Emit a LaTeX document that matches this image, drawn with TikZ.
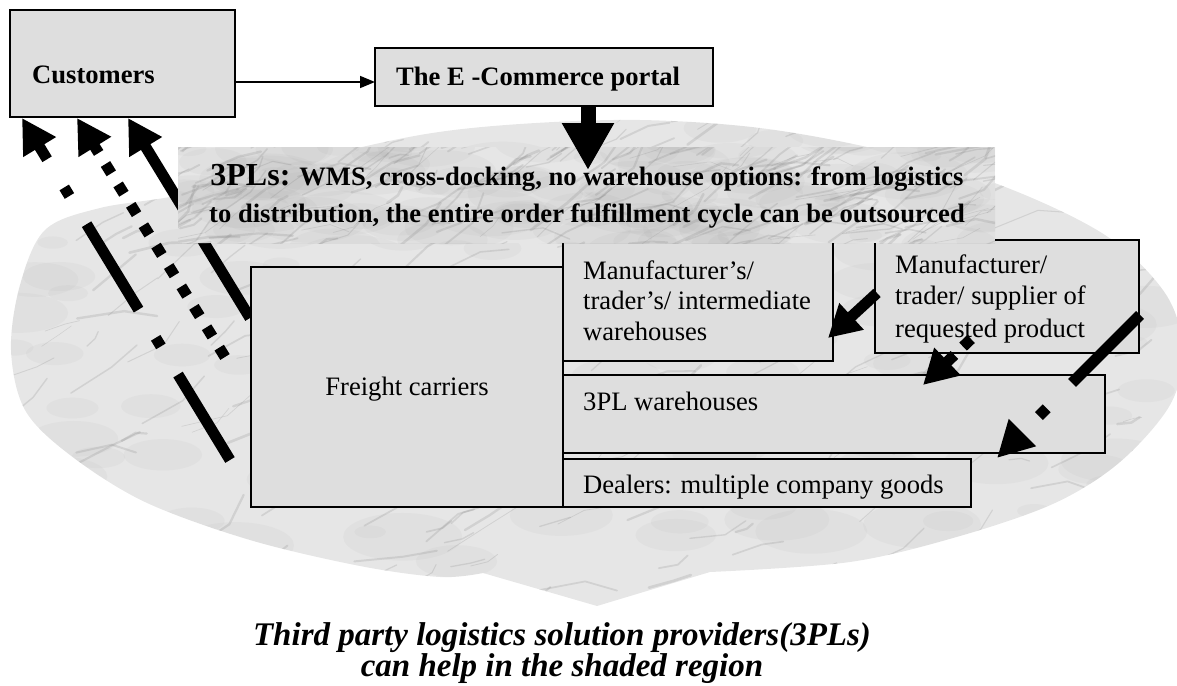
\documentclass[tikz,border=0pt]{standalone}
\usepackage{fontspec}
\setmainfont{Liberation Serif}
\usetikzlibrary{arrows.meta,calc}
\definecolor{boxgray}{HTML}{DEDEDE}
\definecolor{marble}{HTML}{E6E6E6}
\definecolor{vein}{HTML}{7E7E7E}
\newcommand\blobpath{(597,606) -- plot[smooth,tension=0.55] coordinates {(710,572) (850,562) (960,536) (1055,503) (1120,462) (1170,405) (1183,350) (1165,293) (1105,235) (1000,185) (880,150) (760,128) (640,120) (520,124) (420,135) (300,162) (185,194) (100,208) (45,230) (20,285) (11,350) (25,410) (70,455) (145,502) (250,540) (360,566) (440,577) (483,573)} -- cycle}
\newcommand\marbletex[5]{% seed, xmin, xrange, ymin, yrange
  \pgfmathsetseed{#1}
  \foreach \i in {1,...,140}{%
    \pgfmathsetmacro\xa{#2+rnd*#3}\pgfmathsetmacro\ya{#4+rnd*#5}%
    \pgfmathsetmacro\ra{15+rnd*45}\pgfmathsetmacro\rb{0.4*\ra}%
    \fill[vein,opacity=0.05] (\xa,\ya) ellipse[x radius=\ra, y radius=\rb];
  }
  \foreach \i in {1,...,300}{%
    \pgfmathsetmacro\xa{#2+rnd*#3}\pgfmathsetmacro\ya{#4+rnd*#5}%
    \pgfmathsetmacro\an{-5-rnd*40}\pgfmathsetmacro\ln{10+rnd*40}%
    \pgfmathsetmacro\bn{\an+rand*35}\pgfmathsetmacro\lm{0.7*\ln}%
    \pgfmathsetmacro\lw{0.5+rnd*2.2}%
    \draw[vein,line width=\lw pt,opacity=0.2,line cap=round,line join=round] (\xa,\ya) -- ++(\an:\ln) -- ++(\bn:\lm);
  }
}
\tikzset{
  box/.style={draw=black,line width=2pt,fill=boxgray,inner sep=0pt,outer sep=0pt,anchor=north west,rectangle},
  txt/.style={anchor=base west,inner sep=0pt,font=\fontsize{26.6pt}{30.5pt}\selectfont},
  btxt/.style={txt,font=\fontsize{26.6pt}{30.5pt}\selectfont\bfseries},
  captxt/.style={anchor=base,inner sep=0pt,font=\fontsize{33pt}{37pt}\selectfont\bfseries\itshape},
  thick arrow/.style={line width=11pt,-{Triangle[length=34pt,width=36pt]}},
  longdashdot/.style={dash pattern=on 100pt off 33pt on 10pt off 33pt},
  squaredot/.style={dash pattern=on 11pt off 13pt},
}
\begin{document}
\begin{tikzpicture}[x=1pt,y=-1pt]
\useasboundingbox (0,0) rectangle (1177,685);
% shaded marble region
\fill[marble] \blobpath;
\begin{scope}
  \clip \blobpath;
  \marbletex{11}{0}{1200}{110}{510}
\end{scope}

% arrows back to customers (behind boxes)
\coordinate (a1s) at (230,460);
\coordinate (a1t) at (22,118);
\coordinate (a2s) at (225,357);
\coordinate (a2t) at (77,118);
\coordinate (a3s) at (250,318);
\coordinate (a3t) at (128,118);
\draw[thick arrow,longdashdot] (a1s) -- (a1t);
\draw[thick arrow,squaredot] (a2s) -- (a2t);
\draw[thick arrow] (a3s) -- (a3t);

% boxes
\node[box,minimum width=225pt,minimum height=107pt] (cust) at (10,10) {};
\node[box,minimum width=338pt,minimum height=58pt] (portal) at (375,48) {};
\node[box,minimum width=312pt,minimum height=240pt] (freight) at (251,267) {};
\node[box,minimum width=270pt,minimum height=121pt] (mwh) at (563,240) {};
\node[box,minimum width=264pt,minimum height=113pt] (supp) at (875,240) {};
\node[box,minimum width=542pt,minimum height=78pt] (w3pl) at (563,375) {};
\node[box,minimum width=408pt,minimum height=48pt] (deal) at (563,459) {};

% box texts
\node[btxt] (tcust) at (32,83) {Customers};
\node[btxt] (tportal) at (396,85) {The E -Commerce portal};
\node[txt,anchor=base] (tfreight) at (407,395) {Freight carriers};
\node[txt] (tmwh1) at (583,279) {Manufacturer’s/};
\node[txt] (tmwh2) at (583,309) {trader’s/ intermediate};
\node[txt] (tmwh3) at (583,340) {warehouses};
\node[txt] (tsupp1) at (895,273) {Manufacturer/};
\node[txt] (tsupp2) at (895,304) {trader/ supplier of};
\node[txt] (tsupp3) at (895,337) {requested product};
\node[txt] (tw3pl) at (583,410) {3PL warehouses};
\node[txt] (tdeal) at (583,493) {Dealers: multiple company goods};

% arrows among the suppliers
\coordinate (r1s) at (877,293);
\coordinate (r1t) at (828,338);
\coordinate (r2s) at (971,339);
\coordinate (r2t) at (923,385);
\coordinate (r3s) at (1140,315);
\coordinate (r3t) at (997,458);
\draw[line width=11pt,-{Triangle[length=32pt,width=34pt]}] (r1s) -- (r1t);
\draw[line width=11pt,dash pattern=on 11pt off 12pt on 100pt,-{Triangle[length=34pt,width=36pt]}] (r2s) -- (r2t);
\draw[line width=11pt,dash pattern=on 96pt off 36pt on 11pt off 36pt,-{Triangle[length=36pt,width=36pt]}] (r3s) -- (r3t);

% 3PL banner
\node[rectangle,inner sep=0pt,outer sep=0pt,anchor=north west,minimum width=817pt,minimum height=96pt,fill=marble] (banner) at (178,147) {};
\begin{scope}
  \clip (banner.north west) rectangle (banner.south east);
  \marbletex{5}{150}{870}{120}{140}
\end{scope}
\node[anchor=base,inner sep=0pt,font=\fontsize{26.6pt}{30.5pt}\selectfont\bfseries] (tb1) at (587,185) {{\fontsize{32pt}{36pt}\selectfont 3PLs:} WMS, cross-docking, no warehouse options: from logistics};
\node[anchor=base,inner sep=0pt,font=\fontsize{26.6pt}{30.5pt}\selectfont\bfseries] (tb2) at (587,222) {to distribution, the entire order fulfillment cycle can be outsourced};

% customers -> portal, portal -> 3PL banner
\coordinate (ay) at (0,82);
\draw[line width=1.5pt,-{Triangle[length=15pt,width=12pt]}] (cust.east |- ay) -- (portal.west |- ay);
\coordinate (ptip) at (588,170);
\draw[line width=15pt,-{Triangle[length=47pt,width=49pt]}] (portal.south -| ptip) -- (ptip);

% caption
\node[captxt] (cap1) at (562,645) {Third party logistics solution providers(3PLs)};
\node[captxt] (cap2) at (562,676) {can help in the shaded region};
\end{tikzpicture}
\end{document}
